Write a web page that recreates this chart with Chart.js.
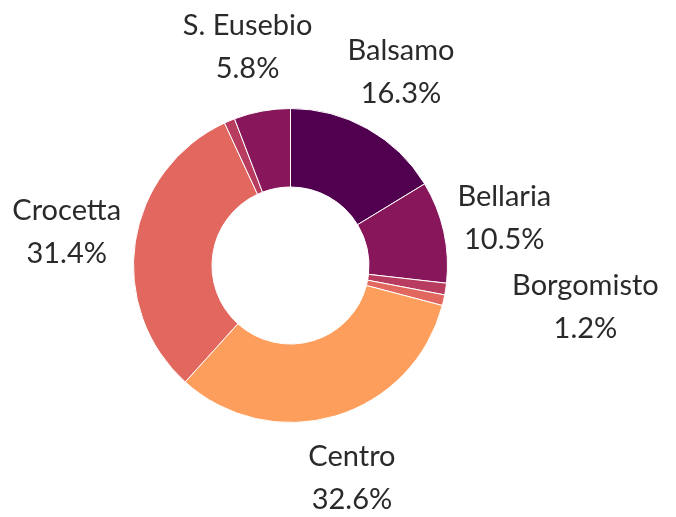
<!DOCTYPE html>
<html>
<head>
<meta charset="utf-8">
<script src="https://cdn.jsdelivr.net/npm/chart.js@4"></script>
<style>
  html, body { margin: 0; padding: 0; background: #fff; }
  #wrap { width: 676px; height: 517px; }
</style>
</head>
<body>
<div id="wrap"><canvas id="myChart" width="676" height="517"></canvas></div>
<script>
// quartieri, in order around the ring (clockwise from top)
const quartieri = ['Balsamo', 'Bellaria', 'Borgomisto', '', 'Centro', 'Crocetta', '', 'S. Eusebio'];
const quote = [16.3, 10.5, 1.2, 1.1, 32.6, 31.4, 1.1, 5.8];
const colori = ['#51004f', '#87165b', '#b83c5f', '#e2675f', '#fe9e5c', '#e2675f', '#b83c5f', '#87165b'];

// outside labels: name + percentage, placed past the ring on each slice's mid angle
const outsideLabels = {
  id: 'outsideLabels',
  afterDraw(chart, args, opts) {
    const ctx = chart.ctx;
    const meta = chart.getDatasetMeta(0);
    const data = chart.data.datasets[0].data;
    const total = data.reduce((a, b) => a + b, 0);
    ctx.save();
    ctx.font = opts.font;
    ctx.fillStyle = opts.color;
    ctx.textAlign = 'center';
    ctx.textBaseline = 'middle';
    meta.data.forEach((arc, i) => {
      const name = chart.data.labels[i];
      if (!name) return;
      const p = arc.getProps(['x', 'y', 'startAngle', 'endAngle', 'outerRadius'], true);
      const mid = (p.startAngle + p.endAngle) / 2;
      const dx = Math.cos(mid), dy = Math.sin(mid);
      const r = p.outerRadius + opts.offset + (opts.push[name] || 0);
      const ax = p.x + r * dx, ay = p.y + (r + opts.extraY) * dy;
      const lines = [name, (data[i] / total * 100).toFixed(1) + '%'];
      const w = Math.max(...lines.map(t => ctx.measureText(t).width));
      const h = lines.length * opts.lineHeight;
      const left = ax + (dx - 1) / 2 * w;
      const top = ay - (1 - dy) / 2 * h;
      lines.forEach((t, j) => {
        ctx.fillText(t, left + w / 2, top + opts.lineHeight / 2 + j * opts.lineHeight);
      });
    });
    ctx.restore();
  }
};

const ctx = document.getElementById('myChart');

new Chart(ctx, {
  type: 'doughnut',
  data: {
    labels: quartieri,
    datasets: [{
      data: quote,
      backgroundColor: colori,
      borderColor: '#ffffff',
      borderWidth: 1,
      hoverOffset: 0
    }]
  },
  options: {
    responsive: false,
    animation: false,
    cutout: '50%',
    layout: { padding: { left: 133, right: 228, top: 108, bottom: 94 } },
    plugins: {
      legend: { display: false },
      tooltip: { enabled: false },
      outsideLabels: {
        font: '29px Lato',
        color: '#2a2a2a',
        lineHeight: 43,
        offset: 15,
        extraY: 7,
        push: { Borgomisto: 53 }
      }
    }
  },
  plugins: [outsideLabels]
});
</script>
</body>
</html>
